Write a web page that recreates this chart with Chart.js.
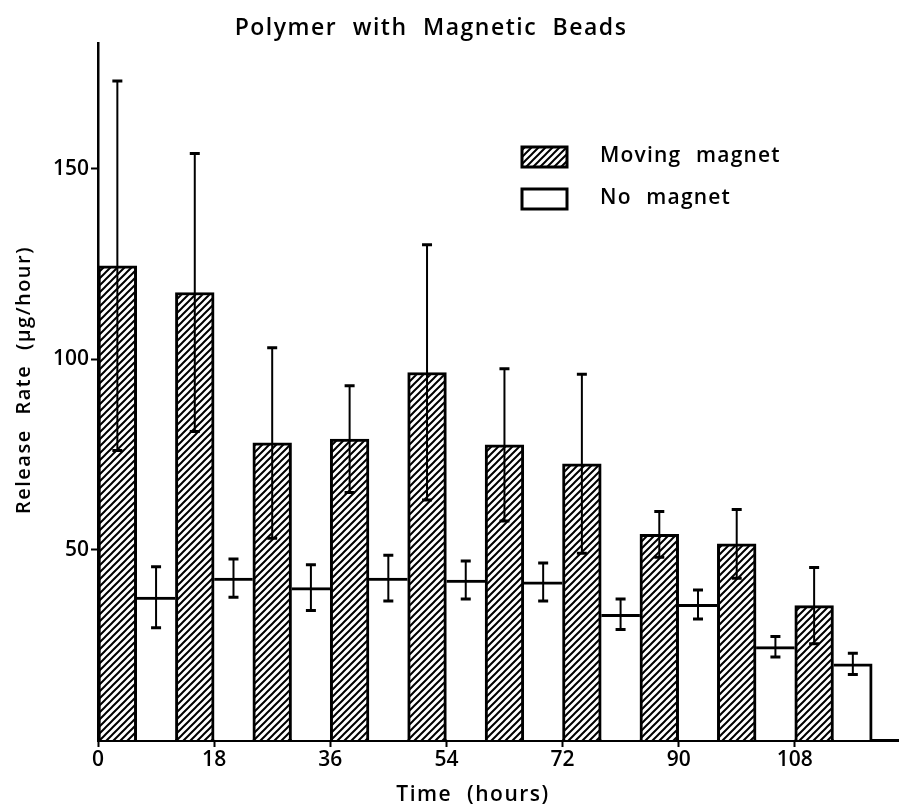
<!DOCTYPE html>
<html>
<head>
<meta charset="utf-8">
<title>Polymer with Magnetic Beads</title>
<script src="https://cdn.jsdelivr.net/npm/chart.js@4.4.1/dist/chart.umd.min.js"></script>
<style>
  html, body { margin: 0; background: #fff; }
  #wrap { width: 902px; height: 806px; }
</style>
</head>
<body>
<div id="wrap"><canvas id="release-chart" width="902" height="806"></canvas></div>
<script>
// release-chart — release rate per 6 h interval, moving magnet vs. no magnet (mean ± SD)

const BIN_HOURS = 6;

// interval start (h), rate (µg/hour), error bar (µg/hour)
const MOVING_START = [0, 12, 24, 36, 48, 60, 72, 84, 96, 108];
const MOVING_RATE  = [124.5, 117.5, 78, 79, 96.5, 77.5, 72.5, 54, 51.5, 35.3];
const MOVING_ERR   = [48.5, 36.5, 25, 14, 33.5, 20, 23.5, 6, 9, 10];

const STILL_START  = [6, 18, 30, 42, 54, 66, 78, 90, 102, 114];
const STILL_RATE   = [37.5, 42.5, 40, 42.5, 42, 41.5, 33, 35.6, 24.5, 20];
const STILL_ERR    = [8, 5, 6, 6, 5, 5, 4, 3.8, 2.7, 2.8];

const X_TICKS = [0, 18, 36, 54, 72, 90, 108];
const Y_TICKS = [50, 100, 150];

const INK  = '#000';
const FONT = '"Open Sans", "DejaVu Sans", sans-serif';
const WEIGHT = 600;

const canvas = document.getElementById('release-chart');
const ctx = canvas.getContext('2d');

// "////" hatch for the moving-magnet bars
function hatch(size = 7) {
  const c = document.createElement('canvas');
  c.width = c.height = size;
  const g = c.getContext('2d');
  g.fillStyle = '#fff';
  g.fillRect(0, 0, size, size);
  g.strokeStyle = INK;
  g.lineWidth = 2;
  g.beginPath();
  g.moveTo(-1, 1);              g.lineTo(1, -1);
  g.moveTo(0, size);            g.lineTo(size, 0);
  g.moveTo(size - 1, size + 1); g.lineTo(size + 1, size - 1);
  g.stroke();
  return ctx.createPattern(c, 'repeat');
}
const HATCH = hatch();

const toBars = (starts, rates) => starts.map((h, i) => ({ x: h + BIN_HOURS / 2, y: rates[i] }));

// white page under everything
const paper = {
  id: 'paper',
  beforeDraw(chart) {
    const c = chart.ctx;
    c.save();
    c.fillStyle = '#fff';
    c.fillRect(0, 0, chart.width, chart.height);
    c.restore();
  }
};

// vertical error bars with caps, centred on each bar
const errorBars = {
  id: 'errorBars',
  afterDatasetsDraw(chart) {
    const c = chart.ctx, y = chart.scales.y;
    c.save();
    c.strokeStyle = INK;
    chart.data.datasets.forEach((ds, di) => {
      chart.getDatasetMeta(di).data.forEach((bar, i) => {
        const v = ds.data[i].y, e = ds.errors[i];
        const hi = y.getPixelForValue(v + e), lo = y.getPixelForValue(v - e);
        c.lineWidth = 2;
        c.beginPath();
        c.moveTo(bar.x, hi); c.lineTo(bar.x, lo);
        c.stroke();
        c.lineWidth = 3;
        c.beginPath();
        c.moveTo(bar.x - 5, hi); c.lineTo(bar.x + 5, hi);
        c.moveTo(bar.x - 5, lo); c.lineTo(bar.x + 5, lo);
        c.stroke();
      });
    });
    c.restore();
  }
};

// title, axis titles and the boxed legend
const lettering = {
  id: 'lettering',
  afterDraw(chart) {
    const c = chart.ctx;
    const text = (s, x, y, size, opts = {}) => {
      c.save();
      c.font = `${WEIGHT} ${size}px ${FONT}`;
      c.fillStyle = INK;
      c.textAlign = opts.align || 'center';
      c.textBaseline = 'middle';
      if ('letterSpacing' in c) c.letterSpacing = (opts.ls ?? 1.5) + 'px';
      if ('wordSpacing' in c) c.wordSpacing = (opts.ws ?? 8) + 'px';
      c.translate(x, y);
      if (opts.rot) c.rotate(opts.rot);
      c.fillText(s, 0, 0);
      c.restore();
    };

    text('Polymer with Magnetic Beads', 431, 28, 23, { ws: 8 });
    text('Time (hours)', 473, 795, 21);
    text('Release Rate (µg/hour)', 24, 380, 20, { rot: -Math.PI / 2 });

    chart.data.datasets.forEach((ds, i) => {
      const top = 147 + i * 42;
      c.save();
      c.fillStyle = ds.backgroundColor;
      c.fillRect(522, top, 45, 20);
      c.strokeStyle = INK;
      c.lineWidth = 3;
      c.strokeRect(522, top, 45, 20);
      c.restore();
      text(ds.label, 600, top + 9, 21, { align: 'left', ls: 1.2 });
    });
  }
};

const tickFont = { family: FONT, size: 21, weight: WEIGHT };

new Chart(ctx, {
  type: 'bar',
  data: {
    datasets: [
      {
        label: 'Moving magnet',
        data: toBars(MOVING_START, MOVING_RATE),
        errors: MOVING_ERR,
        backgroundColor: HATCH,
        borderColor: INK,
        borderWidth: { top: 3, left: 3, right: 3, bottom: 0 },
      },
      {
        label: 'No magnet',
        data: toBars(STILL_START, STILL_RATE),
        errors: STILL_ERR,
        backgroundColor: '#fff',
        borderColor: INK,
        // sides are shared with the hatched neighbours, except the last one
        borderWidth: c => ({ top: 3, left: 0, bottom: 0, right: c.dataIndex === STILL_RATE.length - 1 ? 3 : 0 }),
      },
    ]
  },
  options: {
    responsive: false,
    animation: false,
    devicePixelRatio: 1,
    layout: { padding: { top: 43, right: 4, left: 0, bottom: 0 } },
    datasets: { bar: { grouped: false, barPercentage: 1, categoryPercentage: 1 } },
    plugins: {
      legend: { display: false },
      title: { display: false },
      tooltip: { enabled: false },
    },
    scales: {
      x: {
        type: 'linear',
        min: 0,
        max: 124,
        offset: false,
        z: 1,
        afterBuildTicks: s => { s.ticks = X_TICKS.map(value => ({ value })); },
        afterFit: s => { s.height = 66; },
        grid: { drawOnChartArea: false, offset: false, tickLength: 7, tickWidth: 2, tickColor: INK },
        border: { color: INK, width: 3 },
        ticks: { color: INK, font: tickFont, padding: 0, maxRotation: 0, autoSkip: false },
      },
      y: {
        min: 0,
        max: 183,
        z: 1,
        afterBuildTicks: s => { s.ticks = Y_TICKS.map(value => ({ value })); },
        afterFit: s => { s.width = 98; },
        grid: { drawOnChartArea: false, tickLength: 7, tickWidth: 2, tickColor: INK },
        border: { color: INK, width: 2.5 },
        ticks: { color: INK, font: tickFont, padding: 2 },
      }
    }
  },
  plugins: [paper, errorBars, lettering]
});
</script>
</body>
</html>
